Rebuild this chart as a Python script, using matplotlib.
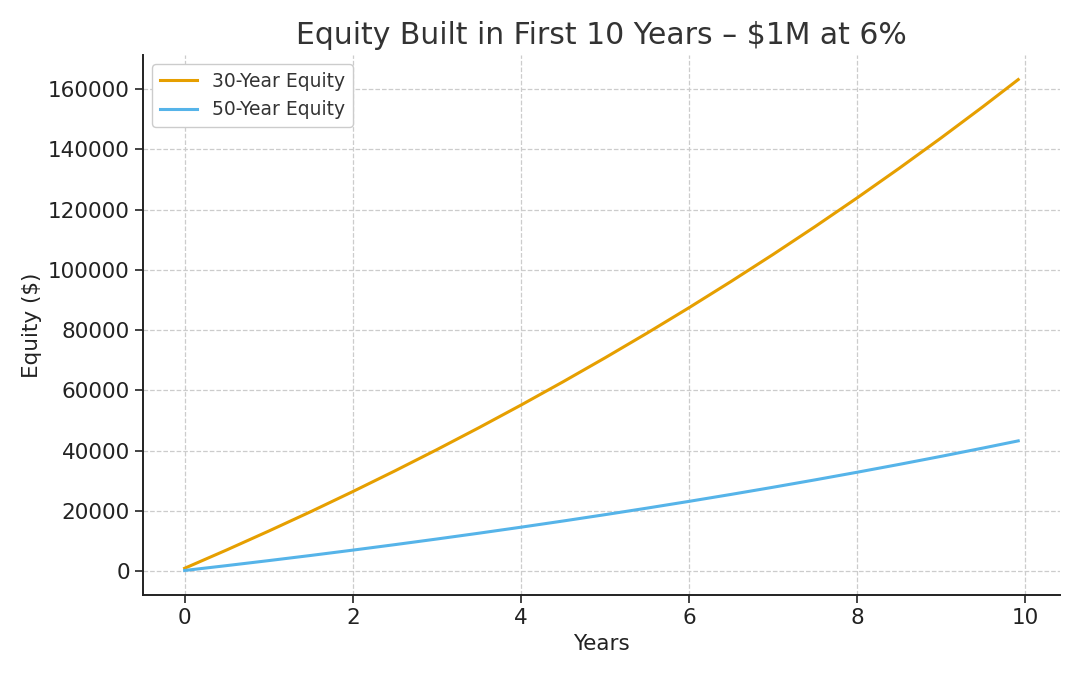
import matplotlib
matplotlib.use("Agg")
import matplotlib.pyplot as plt

# Years (x) — month index / 12
years = [0, 0.5, 1, 1.5, 2, 2.5, 3, 3.5, 4, 4.5, 5, 5.5, 6, 6.5, 7, 7.5,
         8, 8.5, 9, 9.5, 119 / 12]

equity_30 = [996, 7074, 13337, 19776, 26440, 33291, 40351, 47624, 55120,
             62844, 70800, 78996, 87446, 96153, 105120, 114360, 123884,
             133694, 143801, 154216, 163144]

equity_50 = [264, 1876, 3537, 5244, 7012, 8829, 10701, 12629, 14617,
             16666, 18775, 20949, 23190, 25499, 27877, 30327, 32853,
             35454, 38135, 40897, 43263]

labels = ["30-Year Equity", "50-Year Equity"]
colors = ["#E69F00", "#56B4E9"]

plt.rcParams['font.family'] = ['DejaVu Sans']

fig = plt.figure(figsize=(10.8, 6.75), dpi=100)
ax = fig.add_axes([0.1324, 0.1185, 0.849, 0.8])

ax.plot(years, equity_30, color=colors[0], lw=2.2, label=labels[0])
ax.plot(years, equity_50, color=colors[1], lw=2.2, label=labels[1])

ax.set_title("Equity Built in First 10 Years – $1M at 6%", fontsize=21.5,
             color="#333333", pad=8)
ax.set_xlabel("Years", fontsize=15.5, color="#222222")
ax.set_ylabel("Equity ($)", fontsize=15.5, color="#222222")

ax.grid(True, linestyle="--", color="#cccccc", lw=0.9)
ax.set_axisbelow(True)
for s in ["top", "right"]:
    ax.spines[s].set_visible(False)
for s in ["left", "bottom"]:
    ax.spines[s].set_linewidth(1.4)
    ax.spines[s].set_color("#222222")

ax.tick_params(labelsize=15.5, colors="#222222", length=6, width=1.2)
ax.set_xticks([0, 2, 4, 6, 8, 10])
ax.ticklabel_format(style="plain", axis="y")

leg = ax.legend(loc="upper left", fontsize=13.5, frameon=True,
                edgecolor="#cccccc", framealpha=1)
for t in leg.get_texts():
    t.set_color("#333333")

fig.savefig("out.png", dpi=100)
